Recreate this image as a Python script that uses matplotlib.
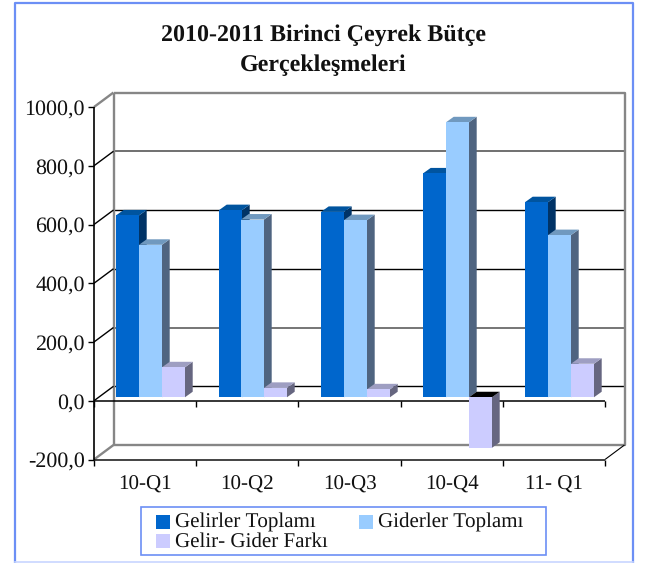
import matplotlib
matplotlib.use("Agg")
import matplotlib.pyplot as plt
from matplotlib.patches import Polygon, Rectangle
from matplotlib.lines import Line2D

categories = ["10-Q1", "10-Q2", "10-Q3", "10-Q4", "11- Q1"]
gelirler = [619, 637, 631, 762, 664]
giderler = [519, 605, 603, 936, 552]
fark = [102, 32, 27, -172, 114]
y_ticks = [-200, 0, 200, 400, 600, 800, 1000]
y_labels = ["-200,0", "0,0", "200,0", "400,0", "600,0", "800,0", "1000,0"]
series_names = ["Gelirler Toplamı", "Giderler Toplamı", "Gelir- Gider Farkı"]
title_lines = "2010-2011 Birinci Çeyrek Bütçe\nGerçekleşmeleri"

W, H = 645, 563
plt.rcParams["font.family"] = ["Liberation Serif", "DejaVu Serif"]
plt.rcParams["text.hinting"] = "none"
plt.rcParams["text.hinting_factor"] = 1
fig = plt.figure(figsize=(W / 100, H / 100), dpi=100)
fig.patch.set_facecolor("white")

# front plane of the chart, in pixels from the top-left corner
L, R, T, B = 94, 605, 107, 459.5
ax = fig.add_axes([L / W, 1 - B / H, (R - L) / W, (B - T) / H])
ax.set_xlim(0, 5)
ax.set_ylim(-200, 1000)
ax.patch.set_alpha(0)
for s in ax.spines.values():
    s.set_visible(False)
ax.set_xticks([])
ax.set_yticks([])

px = 5 / (R - L)
py = 1200 / (B - T)
DX, DY = 19.5 * px, 14.5 * py       # wall depth
BX, BY = 5.5 * px, 3.5 * py         # bar start depth
SX, SY = 7.7 * px, 5.5 * py         # bar depth
bw = 23 * px

grey = "#868686"
def ln(xs, ys, c="black", lw=1.1, z=1):
    ax.add_line(Line2D(xs, ys, color=c, lw=lw, zorder=z, clip_on=False, solid_capstyle="butt"))

# back wall gridlines
grid_styles = {0: ("black", 1.0), 200: ("#6a6a6a", 1.3), 400: ("black", 1.0),
               600: ("black", 1.0), 800: ("#707070", 1.4)}
for v, (c, w) in grid_styles.items():
    ln([DX, 5 + DX], [v + DY] * 2, c, w)
# wall frame
ln([DX, 5 + DX, 5 + DX, DX, DX],
   [1000 + DY, 1000 + DY, -200 + DY, -200 + DY, 1000 + DY], grey, 1.7, 2)
# side wall diagonals and left ticks
for v in y_ticks:
    edge = v in (1000, -200)
    ln([0, DX], [v, v + DY], grey if edge else "black", 1.7 if edge else 1.0, 2)
    ln([-6.5 * px, 0], [v, v], "black", 1.0, 3)
    ax.text(-9.0 * px, v - 0.8 * py, y_labels[y_ticks.index(v)], ha="right", va="center_baseline", fontsize=15.7,
            color="#111111")
ln([5, 5 + DX], [-200, -200 + DY], "black", 0.8, 2)
# front axes
ln([0, 0], [-200, 1000], "black", 1.2, 6)
ln([0, 5], [-200, -200], "#222222", 1.2, 3)
ln([0, 5], [0, 0], "black", 1.1, 3)
for i in range(6):
    ln([i, i], [0, -6 * py], "black", 1.0, 3)
    ln([i, i], [-200, -200 - 6 * py], "black", 1.0, 3)
for i, c in enumerate(categories):
    ax.text(i + 0.5, -200 - 15.5 * py, c, ha="center", va="top", fontsize=15, color="#111111")

# bars
series = [
    (gelirler, "#0066CC", "#00549F", "#003366"),
    (giderler, "#99CCFF", "#7099BF", "#4F6480"),
    (fark, "#CCCCFF", "#9E9EC2", "#666680"),
]
lefts = [[116, 139, 162], [219, 241, 264], [321, 344, 367], [423, 446, 469], [525, 548, 571]]
for s, (vals, cf, ct, cs) in enumerate(series):
    for i, v in enumerate(vals):
        x0 = (lefts[i][s] - L) * px
        x1 = x0 + bw
        lo, hi = BY, v + BY
        if v < 0:
            lo, hi = v + BY, BY
        z = 10 + s * 2 + i * 0.01
        ax.bar(x0, hi - lo, bw, bottom=lo, align="edge", color=cf, zorder=z + 1, clip_on=False, lw=0)
        ax.add_patch(Polygon([(x1, lo), (x1 + SX, lo + SY), (x1 + SX, hi + SY), (x1, hi)],
                             closed=True, fc=cs, lw=0, zorder=z, clip_on=False))
        top_c = "black" if v < 0 else ct
        ax.add_patch(Polygon([(x0, hi), (x1, hi), (x1 + SX, hi + SY), (x0 + SX, hi + SY)],
                             closed=True, fc=top_c, lw=0, zorder=z, clip_on=False))

# title
fig.text(323.5 / W, 1 - 50 / H, title_lines, ha="center", va="center", fontsize=17.4,
         fontweight="bold", linespacing=1.54, color="#111111")

# outer border
blue = "#6C8FF5"
def border(xs, ys, c, w):
    fig.add_artist(Line2D([x / W for x in xs], [1 - y / H for y in ys], color=c, lw=w,
                          transform=fig.transFigure))
border([14.5, 14.5, 633, 633], [562, 3, 3, 562], blue, 1.6)
border([14.5, 633], [561.8, 561.8], "#C8D6FF", 1.2)
# legend box
fig.add_artist(Rectangle((140.5 / W, 1 - 555 / H), 405 / W, 48 / H, transform=fig.transFigure,
                         fill=False, ec=blue, lw=1.2))
entries = [(156, 522), (359, 522), (156, 541)]
for (lx, ly), name, (_, cf, _, _) in zip(entries, series_names, series):
    fig.add_artist(Rectangle((lx / W, 1 - (ly + 7) / H), 14 / W, 14 / H, transform=fig.transFigure,
                             fc=cf, lw=0))
    fig.text((lx + 19) / W, 1 - (ly + 0.5) / H, name, ha="left", va="center", fontsize=15.35,
             color="#111111")

fig.savefig("out.png", dpi=100)
